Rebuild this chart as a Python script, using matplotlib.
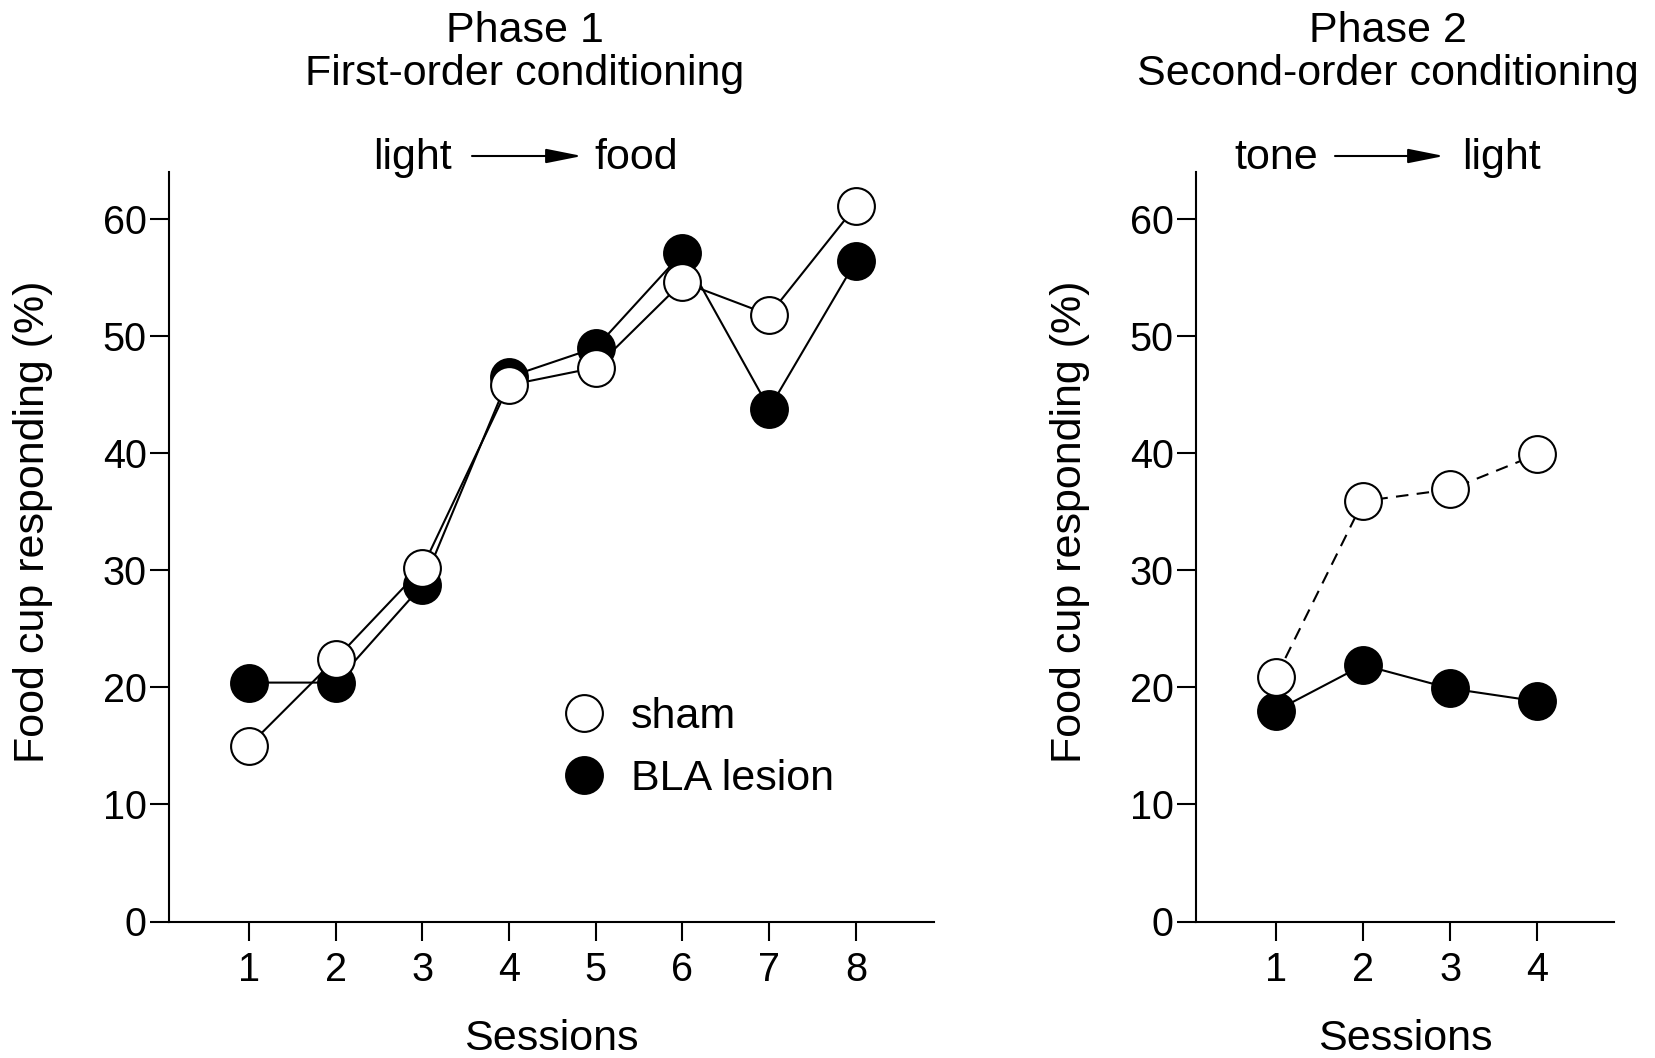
import numpy as np
import matplotlib
matplotlib.use("Agg")
import matplotlib.pyplot as plt
from matplotlib.lines import Line2D

plt.rcParams["font.family"] = ["Liberation Sans", "DejaVu Sans"]

# phase 1: first-order conditioning (light -> food)
sessions_p1 = [1, 2, 3, 4, 5, 6, 7, 8]
sham_p1 = [15.0, 22.4, 30.2, 45.8, 47.3, 54.6, 51.8, 61.1]
bla_p1 = [20.4, 20.4, 28.7, 46.5, 49.0, 57.1, 43.8, 56.4]

# phase 2: second-order conditioning (tone -> light)
sessions_p2 = [1, 2, 3, 4]
sham_p2 = [20.9, 35.9, 36.9, 39.9]
bla_p2 = [18.0, 21.9, 19.9, 18.8]

yticks = [0, 10, 20, 30, 40, 50, 60]

W, H = 1655, 1058
fig = plt.figure(figsize=(W / 100, H / 100), dpi=100)

ax1 = fig.add_axes([169 / W, 1 - 921.5 / H, 765 / W, 749.5 / H])
ax2 = fig.add_axes([1196 / W, 1 - 921.5 / H, 418 / W, 749.5 / H])

TICK = 28.5
TXT = 31
LW = 1.5
MS = 26.5

def style(ax, xlim, xticks, ylab_x):
    ax.set_xlim(*xlim)
    ax.set_ylim(0, 64)
    ax.set_xticks(xticks)
    ax.set_yticks(yticks)
    for s in ["top", "right"]:
        ax.spines[s].set_visible(False)
    for s in ["left", "bottom"]:
        ax.spines[s].set_linewidth(LW)
    ax.tick_params(axis="both", direction="out", length=14, width=LW, labelsize=TICK)
    ax.tick_params(axis="x", pad=7)
    ax.tick_params(axis="y", pad=2)
    ax.set_xlabel("Sessions", fontsize=TXT, va="baseline")
    ax.xaxis.set_label_coords(0.5, (921.5 - 1050) / 749.5)
    ax.set_ylabel("Food cup responding (%)", fontsize=TXT, va="baseline")
    ax.yaxis.set_label_coords(ylab_x, (921.5 - 521.5) / 749.5)

style(ax1, (0.08, 8.9), sessions_p1, (44 - 169) / 765)
style(ax2, (0.08, 4.88), sessions_p2, (1081.5 - 1196) / 418)

mk_open = dict(marker="o", ms=MS, mfc="white", mec="black", mew=LW, ls="none")
mk_fill = dict(marker="o", ms=MS, mfc="black", mec="black", mew=LW, ls="none")

# phase 1
ax1.plot(sessions_p1, bla_p1, color="black", lw=LW, zorder=2)
ax1.plot(sessions_p1, sham_p1, color="black", lw=LW, zorder=2)
ax1.plot(sessions_p1, bla_p1, zorder=3, **mk_fill)
ax1.plot(sessions_p1, sham_p1, zorder=4, **mk_open)

# phase 2
ax2.plot(sessions_p2, bla_p2, color="black", lw=LW, zorder=2)
ax2.plot(sessions_p2, sham_p2, color="black", lw=LW, ls=(0, (6, 4)), zorder=2)
ax2.plot(sessions_p2, bla_p2, zorder=3, **mk_fill)
ax2.plot(sessions_p2, sham_p2, zorder=4, **mk_open)

handles = [Line2D([], [], **mk_open), Line2D([], [], **mk_fill)]
ax1.legend(handles, ["sham", "BLA lesion"], loc="upper left",
           bbox_to_anchor=(0.514, 0.299), frameon=False, fontsize=TXT,
           handlelength=1.0, handletextpad=0.6, labelspacing=0.5,
           borderpad=0, borderaxespad=0, numpoints=1)

# titles
fig.text(525 / W, 1 - 41.7 / H, "Phase 1", fontsize=TXT, ha="center", va="baseline")
fig.text(525 / W, 1 - 84.5 / H, "First-order conditioning", fontsize=TXT, ha="center", va="baseline")
fig.text(1388 / W, 1 - 41.7 / H, "Phase 2", fontsize=TXT, ha="center", va="baseline")
fig.text(1388 / W, 1 - 84.5 / H, "Second-order conditioning", fontsize=TXT, ha="center", va="baseline")

# stimulus pairings with arrows
def pairing(left, right, x_l, x_a0, x_a1, x_r):
    yb = 1 - 169 / H
    fig.text(x_l / W, yb, left, fontsize=TXT, ha="right", va="baseline")
    fig.text(x_r / W, yb, right, fontsize=TXT, ha="left", va="baseline")
    ya = 1 - 156 / H
    ax1.annotate("", xy=(x_a1 / W, ya), xytext=(x_a0 / W, ya),
                 xycoords="figure fraction", textcoords="figure fraction",
                 arrowprops=dict(arrowstyle="-|>,head_length=1.1,head_width=0.22",
                                 lw=LW, color="black", shrinkA=0, shrinkB=0,
                                 mutation_scale=20))

pairing("light", "food", 452, 472, 582, 594)
pairing("tone", "light", 1318, 1335, 1444, 1462)

fig.savefig("out.png", dpi=100)
